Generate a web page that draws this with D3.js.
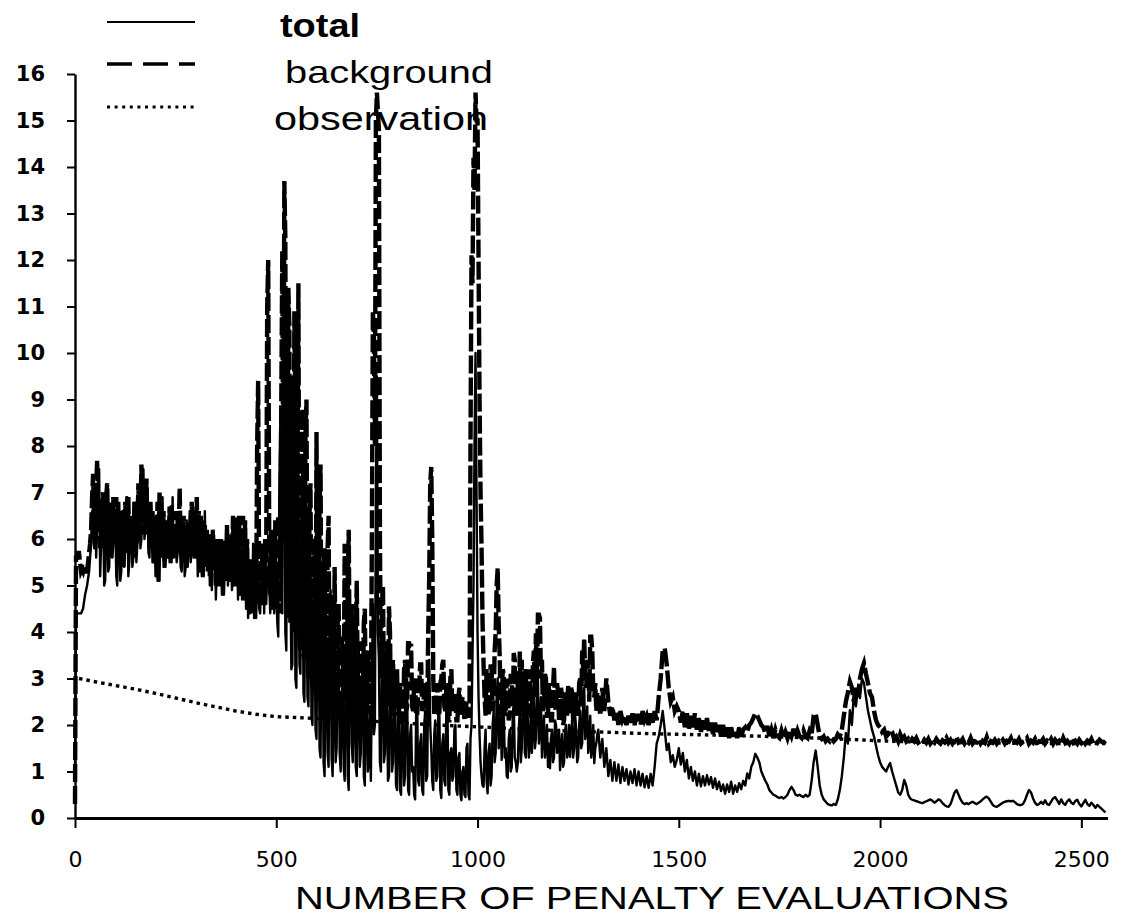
<!DOCTYPE html>
<html>
<head>
<meta charset="utf-8">
<script src="https://cdn.jsdelivr.net/npm/d3@7"></script>
<style>
  html, body { margin: 0; padding: 0; background: #fff; }
  svg { display: block; }
  .ytick text { font-family: "DejaVu Sans", "Liberation Sans", sans-serif; font-weight: bold; font-size: 21px; fill: #000; }
  .xtick text { font-family: "DejaVu Sans", "Liberation Sans", sans-serif; font-size: 22px; fill: #000; }
  .legend text { font-family: "Liberation Sans", Arial, sans-serif; fill: #000; }
</style>
</head>
<body>
<svg id="chart" width="1131" height="917"></svg>
<script>
// The noisy first 1300 evaluations are sampled every 2.5 evaluations,
// the calmer remainder (1300 to 2560) every 5 evaluations.
const earlyStep = 2.5;
const lateStart = 1300;
const lateStep = 5;

// Background penalty term, evaluations 0 - 1297.5
const backgroundEarly = [
  0.3, 5.6, 5.6, 5.7, 5.7, 5.5, 5.3, 5.35, 5.3, 5.4, 5.4, 5.3, 5.3, 5.5, 5.7, 5.9, 6.2, 6.9, 7.4, 6.3,
  6.5, 7.0, 7.7, 6.4, 6.8, 5.8, 5.9, 6.9, 7.0, 6.0, 6.1, 6.9, 7.2, 5.8, 6.3, 6.8, 5.6, 6.4, 6.9, 5.9,
  6.2, 6.9, 5.5, 6.8, 5.6, 6.6, 5.9, 6.6, 5.4, 6.5, 6.8, 5.7, 6.0, 6.9, 5.7, 6.5, 5.8, 6.5, 5.6, 6.8,
  6.7, 5.9, 6.2, 7.2, 6.0, 6.4, 7.6, 6.1, 6.5, 7.3, 6.2, 7.3, 6.1, 6.7, 5.8, 6.8, 6.0, 6.6, 5.7, 6.5,
  6.2, 5.6, 6.8, 5.7, 7.0, 5.9, 6.6, 5.6, 6.6, 5.5, 6.4, 5.7, 6.3, 5.6, 6.7, 5.8, 6.7, 5.9, 6.1, 5.6,
  6.6, 5.7, 6.4, 6.0, 7.1, 5.8, 6.5, 5.7, 6.5, 5.5, 6.3, 5.6, 6.3, 5.6, 6.1, 5.9, 6.8, 5.8, 6.6, 6.0,
  6.0, 6.9, 5.7, 6.6, 5.9, 6.5, 5.5, 6.4, 5.6, 6.3, 5.4, 6.2, 5.3, 6.0, 5.2, 6.1, 5.3, 6.2, 5.6, 5.9,
  5.0, 6.0, 5.5, 5.9, 5.3, 6.0, 5.4, 6.0, 5.5, 5.9, 5.1, 6.3, 5.3, 6.1, 5.2, 5.9, 5.4, 6.5, 5.2, 6.3,
  5.4, 6.5, 5.0, 6.5, 4.9, 5.8, 5.0, 6.5, 5.2, 6.4, 4.8, 6.0, 4.6, 5.5, 4.5, 5.6, 4.4, 5.4, 4.4, 5.9,
  4.6, 8.0, 9.4, 5.0, 4.6, 5.8, 4.6, 5.9, 5.0, 6.0, 5.5, 11.0, 12.0, 5.8, 4.8, 6.2, 4.7, 5.6, 4.5, 6.4,
  4.6, 6.0, 6.5, 4.4, 5.0, 9.0, 12.2, 6.0, 13.7, 12.5, 5.5, 4.3, 11.4, 10.6, 4.2, 6.8, 9.5, 4.0, 10.9, 8.5,
  4.0, 7.0, 11.5, 3.8, 3.6, 7.9, 8.8, 3.5, 3.4, 8.2, 9.0, 4.2, 3.0, 6.5, 7.2, 3.2, 2.8, 5.6, 6.0, 2.7,
  8.3, 3.0, 2.5, 6.8, 7.6, 2.6, 2.2, 5.4, 5.8, 2.4, 2.6, 5.8, 6.5, 2.5, 2.3, 4.4, 4.8, 2.6, 5.4, 3.0,
  2.2, 4.2, 4.6, 2.3, 2.4, 3.9, 3.6, 2.5, 5.9, 4.0, 2.3, 5.0, 6.2, 3.1, 2.5, 4.6, 4.2, 2.3, 2.2, 4.0,
  5.1, 2.6, 2.4, 3.6, 3.8, 2.2, 2.1, 4.2, 4.5, 2.4, 2.3, 3.3, 3.6, 2.3, 2.2, 6.0, 10.9, 10.4, 8.0, 15.0,
  15.6, 15.2, 14.8, 6.0, 3.0, 4.6, 5.0, 2.6, 2.3, 3.5, 3.8, 2.4, 4.55, 4.0, 2.2, 3.1, 3.4, 2.3, 2.4, 3.0,
  3.2, 2.2, 2.3, 2.8, 2.9, 2.1, 2.1, 3.2, 3.4, 2.3, 2.4, 3.76, 3.76, 3.7, 3.7, 2.4, 2.3, 2.9, 3.0, 2.2,
  2.2, 2.7, 2.8, 3.3, 3.3, 2.3, 2.4, 2.8, 2.9, 2.2, 2.2, 4.0, 5.2, 7.2, 7.55, 6.0, 3.0, 2.2, 2.3, 2.9,
  2.8, 2.2, 2.2, 2.9, 3.0, 3.3, 3.4, 2.4, 2.3, 2.8, 2.9, 2.1, 2.1, 3.0, 3.2, 2.3, 2.4, 2.7, 2.6, 2.1,
  2.1, 2.6, 2.8, 2.2, 2.3, 2.6, 2.5, 2.1, 2.1, 2.5, 2.4, 2.2, 2.2, 8.0, 12.1, 11.5, 14.2, 13.5, 15.6, 15.0,
  15.0, 12.0, 9.0, 7.0, 5.8, 4.2, 3.3, 2.6, 2.2, 3.2, 3.0, 2.2, 2.4, 3.3, 3.2, 2.3, 2.5, 3.6, 4.0, 5.0,
  5.37, 4.2, 3.5, 2.3, 2.2, 3.2, 3.1, 2.2, 2.3, 3.0, 2.8, 2.1, 2.2, 3.1, 3.0, 2.4, 3.55, 3.4, 2.4, 2.2,
  2.9, 2.3, 3.58, 2.6, 3.4, 2.2, 2.3, 3.1, 3.2, 2.2, 2.5, 3.2, 3.0, 2.2, 2.2, 3.3, 3.6, 2.6, 3.97, 3.0,
  4.37, 4.37, 4.3, 3.0, 3.4, 2.3, 2.4, 3.1, 3.0, 2.2, 2.2, 2.9, 2.7, 2.1, 2.1, 2.8, 3.25, 2.4, 2.3, 2.9,
  2.7, 2.1, 2.2, 2.8, 2.6, 2.0, 2.1, 2.7, 2.5, 2.2, 2.86, 2.3, 2.3, 2.8, 2.7, 2.1, 2.1, 2.7, 2.6, 2.2,
  2.3, 2.9, 3.0, 2.4, 3.6, 3.2, 3.87, 3.0, 2.8, 3.4, 3.2, 2.5, 3.9, 3.9, 3.6, 2.7, 2.6, 2.9, 2.3, 2.7
];

// Background penalty term, evaluations 1300 - 2560
const backgroundLate = [
  2.6, 2.2, 2.8, 2.3, 3.0, 2.5, 2.2, 2.4, 2.1, 2.3, 2.0, 2.3, 2.1, 2.2, 2.0, 2.2, 2.05, 2.25, 2.0, 2.2,
  2.2, 2.0, 2.3, 2.1, 2.2, 2.0, 2.25, 2.05, 2.3, 2.1, 2.6, 3.0, 3.6, 3.65, 3.3, 2.8, 2.5, 2.6, 2.3, 2.4,
  2.3, 2.05, 2.3, 1.95, 2.25, 1.9, 2.2, 1.95, 2.25, 1.9, 2.15, 1.85, 2.1, 1.9, 2.15, 1.85, 2.05, 1.8, 2.05, 1.85,
  2.0, 1.75, 2.0, 1.75, 1.95, 1.72, 1.95, 1.75, 1.9, 1.72, 1.95, 1.75, 1.9, 1.95, 1.85, 2.0, 2.05, 2.15, 2.25, 2.2,
  2.1, 2.0, 1.95, 1.82, 1.98, 1.76, 1.9, 1.72, 1.9, 1.76, 1.72, 1.88, 1.72, 1.85, 1.72, 1.88, 1.76, 1.92, 1.72, 1.88,
  1.76, 1.72, 1.88, 1.76, 1.72, 1.88, 1.8, 2.2, 2.25, 2.0, 1.75, 1.7, 1.75, 1.65, 1.7, 1.65, 1.72, 1.65, 1.7, 1.8,
  1.75, 1.9, 2.2, 2.5, 2.7, 2.93, 2.8, 2.5, 2.8, 2.6, 3.0, 3.2, 3.33, 3.1, 2.9, 2.68, 2.6, 2.3, 2.1, 2.0,
  1.95, 1.85, 1.9, 1.75, 1.8, 1.9, 1.85, 1.7, 1.75, 1.65, 1.8, 1.7, 1.75, 1.65, 1.7, 1.62, 1.7, 1.65, 1.72, 1.62,
  1.65, 1.6, 1.68, 1.62, 1.7, 1.6, 1.66, 1.62, 1.7, 1.64, 1.6, 1.67, 1.63, 1.72, 1.62, 1.68, 1.6, 1.66, 1.75, 1.62,
  1.64, 1.7, 1.6, 1.66, 1.62, 1.72, 1.6, 1.65, 1.63, 1.7, 1.6, 1.66, 1.62, 1.74, 1.6, 1.65, 1.62, 1.68, 1.6, 1.66,
  1.62, 1.68, 1.6, 1.66, 1.64, 1.72, 1.6, 1.65, 1.62, 1.7, 1.6, 1.64, 1.66, 1.72, 1.6, 1.66, 1.62, 1.7, 1.6, 1.65,
  1.64, 1.7, 1.6, 1.66, 1.62, 1.7, 1.6, 1.68, 1.62, 1.66, 1.6, 1.72, 1.62, 1.66, 1.6, 1.7, 1.62, 1.66, 1.6, 1.68,
  1.62, 1.68, 1.6, 1.66, 1.62, 1.7, 1.6, 1.66, 1.62, 1.68, 1.64, 1.62, 1.66
];

// Total penalty, evaluations 0 - 1297.5
const totalEarly = [
  1.0, 4.4, 4.4, 4.4, 4.4, 4.4, 4.4, 4.45, 4.5, 4.65, 4.8, 4.9, 5.0, 5.15, 5.3, 5.6, 5.9, 6.6, 6.3, 5.8,
  6.9, 5.6, 6.2, 7.4, 7.5, 5.2, 5.9, 6.8, 6.6, 5.0, 5.1, 6.4, 6.8, 5.3, 5.4, 6.7, 6.5, 5.6, 5.9, 6.6,
  6.5, 5.2, 5.0, 6.4, 6.3, 5.1, 5.3, 6.6, 6.6, 5.4, 5.8, 6.9, 6.9, 5.2, 5.5, 6.4, 6.2, 5.4, 5.6, 6.5,
  6.4, 5.5, 5.9, 6.8, 7.0, 5.8, 6.0, 7.5, 7.5, 6.0, 6.2, 7.1, 7.1, 5.7, 5.6, 6.6, 6.6, 5.5, 5.5, 6.3,
  5.2, 6.4, 5.1, 6.6, 5.1, 6.5, 5.8, 6.9, 5.4, 6.4, 5.4, 6.2, 5.6, 6.5, 5.5, 6.7, 5.5, 6.9, 5.6, 6.3,
  6.1, 5.5, 5.7, 6.4, 6.0, 5.4, 5.3, 6.3, 6.1, 5.2, 5.4, 6.4, 5.4, 6.0, 6.6, 5.5, 5.8, 6.4, 5.6, 6.2,
  5.6, 6.4, 5.2, 6.3, 5.3, 6.0, 5.2, 6.1, 5.2, 6.6, 5.5, 5.8, 5.4, 6.0, 5.0, 5.9, 4.9, 5.7, 5.5, 5.9,
  4.7, 5.6, 5.0, 5.6, 5.0, 5.7, 4.8, 5.6, 4.8, 5.5, 5.2, 5.8, 5.0, 6.0, 5.1, 5.7, 4.9, 5.9, 5.0, 5.5,
  5.0, 6.0, 4.7, 5.9, 4.8, 5.5, 4.7, 6.0, 4.7, 6.1, 4.5, 5.8, 4.3, 5.2, 4.4, 5.4, 4.5, 5.9, 4.3, 5.6,
  4.3, 5.4, 5.1, 4.5, 4.4, 5.6, 4.6, 5.4, 4.4, 5.7, 4.6, 5.2, 5.4, 5.0, 4.4, 5.3, 4.5, 5.0, 4.4, 5.3,
  5.2, 4.2, 3.9, 7.0, 8.5, 4.8, 4.4, 9.8, 10.5, 4.0, 3.6, 8.4, 9.0, 4.5, 5.4, 3.2, 3.3, 7.2, 7.8, 3.0,
  2.8, 6.4, 6.9, 3.3, 3.1, 7.0, 7.5, 2.7, 2.5, 5.8, 6.2, 2.6, 2.4, 5.2, 5.5, 2.2, 2.0, 4.9, 4.6, 1.9,
  1.7, 4.8, 5.2, 1.5, 1.3, 4.0, 4.4, 1.2, 0.9, 3.4, 3.8, 1.4, 1.1, 4.5, 4.9, 1.3, 0.9, 2.9, 3.2, 1.2,
  1.5, 3.7, 4.0, 1.4, 1.0, 2.6, 2.8, 1.1, 0.8, 3.2, 3.5, 0.9, 0.6, 4.0, 4.4, 1.6, 1.2, 2.7, 3.0, 1.1,
  0.9, 3.2, 3.6, 1.1, 1.4, 3.0, 3.2, 0.9, 0.7, 2.6, 2.9, 1.0, 1.2, 2.2, 0.8, 3.0, 4.6, 1.8, 2.0, 7.0,
  9.5, 4.0, 3.4, 1.2, 1.0, 3.4, 3.8, 1.2, 1.4, 2.4, 2.6, 0.8, 0.9, 2.8, 3.1, 1.0, 1.2, 2.2, 2.4, 0.7,
  0.6, 2.4, 2.7, 0.6, 0.5, 2.0, 2.2, 0.7, 0.9, 2.8, 3.0, 0.6, 0.5, 1.8, 2.0, 1.0, 1.1, 0.5, 0.4, 2.2,
  2.5, 0.8, 0.7, 1.6, 1.8, 0.6, 0.5, 2.0, 2.3, 0.8, 0.9, 3.0, 3.4, 2.0, 1.5, 0.8, 0.6, 1.8, 2.1, 0.8,
  0.9, 2.2, 2.4, 0.6, 0.43, 1.6, 1.8, 0.8, 0.7, 2.4, 2.6, 0.6, 0.5, 1.4, 1.5, 0.8, 0.9, 1.9, 2.0, 0.6,
  0.5, 1.3, 1.4, 0.5, 0.38, 1.0, 1.1, 0.5, 0.45, 1.5, 1.6, 0.5, 0.4, 1.7, 2.0, 3.5, 5.0, 8.0, 10.0, 7.0,
  4.0, 2.6, 1.8, 1.2, 0.9, 0.7, 0.67, 1.5, 1.9, 0.8, 0.53, 1.4, 1.6, 0.7, 0.9, 2.0, 2.3, 1.2, 1.4, 2.6,
  3.0, 1.5, 1.7, 2.2, 1.25, 2.0, 2.4, 1.3, 1.5, 0.9, 0.86, 1.7, 1.9, 1.0, 1.1, 2.2, 2.5, 1.3, 1.2, 1.0,
  1.18, 1.9, 2.3, 1.2, 1.5, 2.6, 2.9, 1.4, 1.3, 2.4, 2.1, 1.3, 1.6, 2.3, 1.4, 2.0, 2.6, 1.5, 1.7, 2.7,
  3.0, 1.6, 1.9, 2.6, 1.3, 1.8, 2.2, 1.3, 1.5, 2.0, 1.1, 1.6, 1.07, 1.7, 1.9, 1.2, 1.3, 2.1, 2.0, 1.4,
  1.5, 1.9, 1.03, 1.5, 1.8, 1.1, 1.2, 1.9, 2.0, 1.3, 1.4, 2.0, 1.31, 1.8, 2.1, 1.3, 1.5, 2.2, 1.9, 1.2,
  1.3, 2.0, 2.3, 1.5, 1.6, 2.5, 2.8, 1.7, 1.9, 2.4, 1.4, 1.6, 2.2, 1.3, 1.5, 2.0, 1.18, 1.5, 1.6, 1.8
];

// Total penalty, evaluations 1300 - 2560
const totalLate = [
  1.9, 1.3, 1.7, 1.1, 1.5, 0.9, 1.25, 0.8, 1.2, 0.8, 1.15, 0.75, 1.1, 0.8, 1.05, 0.72, 1.0, 0.75, 1.05, 0.7,
  1.0, 0.7, 0.95, 0.66, 0.9, 0.65, 0.95, 0.7, 1.1, 1.6, 1.75, 2.0, 2.3, 1.9, 1.46, 1.6, 1.2, 1.35, 1.1, 1.25,
  1.5, 1.15, 1.4, 1.0, 1.25, 0.85, 1.1, 0.8, 1.0, 0.7, 0.95, 0.68, 0.9, 0.7, 0.92, 0.72, 0.88, 0.65, 0.85, 0.62,
  0.78, 0.58, 0.72, 0.52, 0.72, 0.56, 0.78, 0.52, 0.7, 0.56, 0.75, 0.62, 0.8, 0.7, 0.96, 0.85, 1.1, 1.2, 1.38, 1.3,
  1.2, 1.0, 0.9, 0.8, 0.72, 0.6, 0.55, 0.5, 0.48, 0.45, 0.43, 0.45, 0.42, 0.45, 0.5, 0.6, 0.67, 0.6, 0.5, 0.48,
  0.5, 0.47, 0.45, 0.5, 0.46, 0.5, 0.8, 1.2, 1.45, 1.1, 0.7, 0.5, 0.4, 0.35, 0.3, 0.28, 0.27, 0.3, 0.28, 0.4,
  0.6, 0.9, 1.3, 1.83, 1.6, 2.32, 2.0, 2.68, 2.4, 2.8, 2.58, 3.0, 2.9, 2.6, 2.3, 2.1, 1.9, 1.75, 1.55, 1.35,
  1.2, 1.1, 1.05, 1.0, 1.1, 1.18, 1.0, 0.85, 0.7, 0.55, 0.5, 0.6, 0.82, 0.7, 0.5, 0.42, 0.39, 0.38, 0.36, 0.35,
  0.33, 0.32, 0.34, 0.36, 0.38, 0.4, 0.37, 0.33, 0.36, 0.4, 0.38, 0.32, 0.28, 0.25, 0.24, 0.3, 0.42, 0.55, 0.6, 0.5,
  0.4, 0.33, 0.3, 0.32, 0.3, 0.33, 0.35, 0.32, 0.3, 0.33, 0.36, 0.4, 0.44, 0.46, 0.42, 0.35, 0.28, 0.25, 0.24, 0.27,
  0.3, 0.33, 0.35, 0.36, 0.37, 0.36, 0.37, 0.34, 0.3, 0.28, 0.28, 0.3, 0.38, 0.5, 0.6, 0.55, 0.42, 0.33, 0.28, 0.3,
  0.35, 0.3, 0.38, 0.3, 0.28, 0.35, 0.42, 0.45, 0.38, 0.3, 0.4, 0.32, 0.28, 0.36, 0.4, 0.33, 0.3, 0.37, 0.39, 0.3,
  0.25, 0.32, 0.39, 0.3, 0.26, 0.33, 0.28, 0.22, 0.28, 0.24, 0.2, 0.16, 0.12
];

// Observation penalty term (smooth, read at coarser evaluation counts)
const observationEvals = [10, 50, 100, 150, 200, 250, 300, 350, 400, 450, 500, 550, 600, 700, 800, 900, 1000,
  1100, 1200, 1300, 1400, 1500, 1600, 1700, 1800, 1900, 2000, 2100, 2200, 2300, 2400, 2500, 2560];
const observation = [3.0, 2.93, 2.85, 2.77, 2.68, 2.58, 2.48, 2.39, 2.3, 2.23, 2.18, 2.16, 2.14, 2.1, 2.05, 2.0, 1.96,
  1.92, 1.88, 1.85, 1.82, 1.8, 1.78, 1.76, 1.73, 1.7, 1.66, 1.63, 1.62, 1.61, 1.6, 1.6, 1.6];

const yTicks = d3.range(0, 17);
const xTicks = [0, 500, 1000, 1500, 2000, 2500];
const legendLabels = ["total", "background", "observation"];
const xTitle = "NUMBER OF PENALTY EVALUATIONS";

const svg = d3.select("#chart");
svg.append("rect").attr("width", 1131).attr("height", 917).attr("fill", "#fff");

const x = d3.scaleLinear().domain([0, 2565]).range([75, 1107.5]);
const y = d3.scaleLinear().domain([0, 16]).range([818, 74]);

// Join the two sampling grids into one [evaluation, value] series
const series = (early, late) =>
  early.map((v, i) => [i * earlyStep, v])
    .concat(late.map((v, i) => [lateStart + i * lateStep, v]));
const line = d3.line().x(d => x(d[0])).y(d => y(d[1]));

// Y axis
const yAxis = svg.append("g")
  .attr("class", "ytick")
  .attr("transform", "translate(75,0)")
  .call(d3.axisLeft(y).tickValues(yTicks).tickSize(8).tickSizeOuter(0).tickPadding(22));
yAxis.select(".domain").attr("stroke", "#000").attr("stroke-width", 2.4);
yAxis.selectAll(".tick line").attr("stroke", "#000").attr("stroke-width", 2);

// X axis
const xAxis = svg.append("g")
  .attr("class", "xtick")
  .attr("transform", "translate(0,818)")
  .call(d3.axisBottom(x).tickValues(xTicks).tickSize(10).tickSizeOuter(0).tickPadding(23).tickFormat(d3.format("d")));
xAxis.select(".domain").attr("stroke", "#000").attr("stroke-width", 3.2);
xAxis.selectAll(".tick line").attr("stroke", "#000").attr("stroke-width", 2);

// Series
const plot = svg.append("g");
plot.append("path")
  .datum(series(totalEarly, totalLate))
  .attr("d", line)
  .attr("fill", "none").attr("stroke", "#000").attr("stroke-width", 2.4)
  .attr("stroke-linejoin", "round");
plot.append("path")
  .datum(series(backgroundEarly, backgroundLate))
  .attr("d", line)
  .attr("fill", "none").attr("stroke", "#000").attr("stroke-width", 4.4)
  .attr("stroke-dasharray", "18,4");
plot.append("path")
  .datum(observationEvals.map((e, i) => [e, observation[i]]))
  .attr("d", line)
  .attr("fill", "none").attr("stroke", "#000").attr("stroke-width", 3.4)
  .attr("stroke-dasharray", "3.5,4");

// Axis title
svg.append("text")
  .attr("x", 295).attr("y", 909)
  .attr("textLength", 714).attr("lengthAdjust", "spacingAndGlyphs")
  .style("font-family", "\"Liberation Sans\", Arial, sans-serif")
  .style("font-size", "32px")
  .text(xTitle);

// Legend
const legend = svg.append("g").attr("class", "legend");
const legendStyles = [
  { dash: null, width: 1.8, ly: 22, tx: 280, ty: 37, tw: 80, weight: "bold", fs: 33 },
  { dash: "25,11", width: 3.4, ly: 64, tx: 285, ty: 83, tw: 208, weight: "normal", fs: 32 },
  { dash: "3,4.6", width: 3.2, ly: 107, tx: 274, ty: 130, tw: 214, weight: "normal", fs: 33 }
];
legendLabels.forEach((label, i) => {
  const s = legendStyles[i];
  legend.append("line")
    .attr("x1", 107).attr("x2", 195).attr("y1", s.ly).attr("y2", s.ly)
    .attr("stroke", "#000").attr("stroke-width", s.width)
    .attr("stroke-dasharray", s.dash);
  legend.append("text")
    .attr("x", s.tx).attr("y", s.ty)
    .attr("textLength", s.tw).attr("lengthAdjust", "spacingAndGlyphs")
    .style("font-size", s.fs + "px").style("font-weight", s.weight)
    .text(label);
});
</script>
</body>
</html>
